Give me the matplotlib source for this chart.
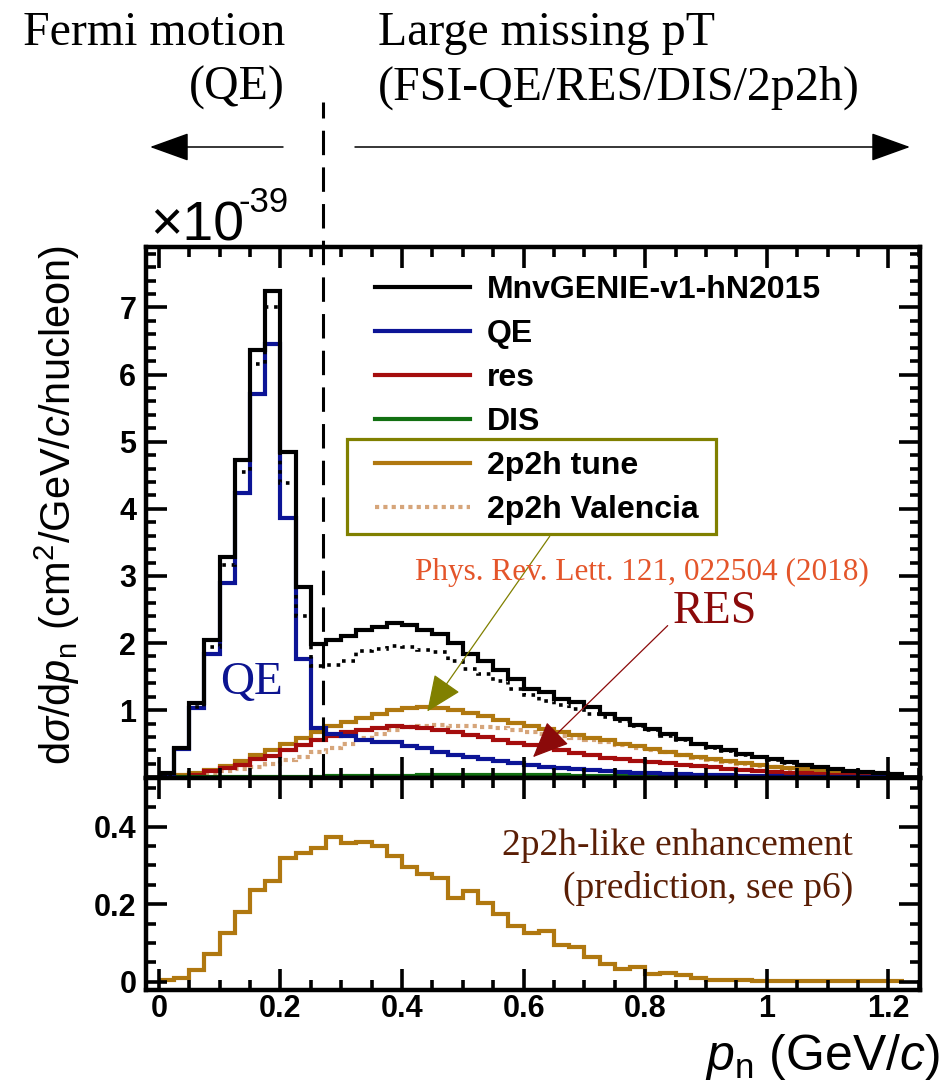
import numpy as np
import matplotlib.pyplot as plt
from matplotlib.lines import Line2D
from matplotlib.patches import Rectangle
from matplotlib.ticker import MultipleLocator

plt.rcParams['mathtext.fontset'] = 'custom'
plt.rcParams['mathtext.rm'] = 'Liberation Sans'
plt.rcParams['mathtext.it'] = 'Liberation Sans:italic'
plt.rcParams['mathtext.bf'] = 'Liberation Sans:bold'

# bin edges of p_n (GeV/c), 0.025 wide
edges = np.round(np.arange(0, 1.2251, 0.025), 3)

# top panel, units of 1e-39 cm2/GeV/c/nucleon
total = [0.06, 0.43, 1.10, 2.04, 3.28, 4.72, 6.36, 7.25, 4.84, 2.83, 1.99, 2.05,
         2.11, 2.20, 2.24, 2.30, 2.27, 2.20, 2.14, 2.00, 1.84, 1.74, 1.60, 1.47,
         1.32, 1.27, 1.17, 1.12, 1.05, 0.95, 0.87, 0.78, 0.72, 0.64, 0.57, 0.50,
         0.45, 0.40, 0.35, 0.31, 0.27, 0.23, 0.19, 0.16, 0.13, 0.10, 0.08, 0.06, 0.05]
total_val = [0.05, 0.43, 1.05, 1.94, 3.17, 4.55, 6.15, 7.01, 4.39, 2.41, 1.66, 1.68,
             1.74, 1.88, 1.91, 1.96, 1.94, 1.90, 1.87, 1.74, 1.62, 1.54, 1.44, 1.32,
             1.22, 1.14, 1.07, 1.02, 0.95, 0.90, 0.84, 0.76, 0.70, 0.62, 0.55, 0.49,
             0.44, 0.39, 0.34, 0.30, 0.26, 0.22, 0.18, 0.15, 0.12, 0.10, 0.08, 0.06, 0.05]
qe = [0.04, 0.42, 1.03, 1.84, 2.90, 4.24, 5.71, 6.45, 3.87, 1.76, 0.74, 0.65,
      0.61, 0.56, 0.53, 0.52, 0.47, 0.43, 0.38, 0.34, 0.30, 0.27, 0.24, 0.21,
      0.19, 0.16, 0.14, 0.13, 0.11, 0.09, 0.08, 0.07, 0.06, 0.05, 0.05, 0.04,
      0.03, 0.03, 0.02, 0.02, 0.02, 0.01, 0.01, 0.01, 0.01, 0.0, 0.0, 0.0, 0.0]
res = [0.0, 0.01, 0.03, 0.09, 0.14, 0.19, 0.27, 0.32, 0.40, 0.48, 0.56, 0.62,
       0.67, 0.70, 0.74, 0.76, 0.75, 0.74, 0.70, 0.67, 0.63, 0.60, 0.55, 0.51,
       0.48, 0.43, 0.40, 0.36, 0.33, 0.29, 0.27, 0.25, 0.23, 0.21, 0.19, 0.17,
       0.15, 0.13, 0.11, 0.10, 0.08, 0.07, 0.06, 0.05, 0.04, 0.03, 0.03, 0.02, 0.02]
dis = [0.0, 0.0, 0.0, 0.0, 0.0, 0.0, 0.0, 0.01, 0.01, 0.01, 0.01, 0.02,
       0.02, 0.02, 0.02, 0.02, 0.02, 0.03, 0.03, 0.03, 0.03, 0.03, 0.03, 0.03,
       0.03, 0.03, 0.03, 0.02, 0.02, 0.02, 0.02, 0.02, 0.02, 0.02, 0.02, 0.01,
       0.01, 0.01, 0.01, 0.01, 0.01, 0.01, 0.01, 0.0, 0.0, 0.0, 0.0, 0.0, 0.0]
mec_tune = [0.01, 0.03, 0.06, 0.11, 0.17, 0.24, 0.33, 0.41, 0.49, 0.59, 0.68, 0.76,
            0.83, 0.89, 0.94, 1.00, 1.04, 1.05, 1.03, 1.00, 0.96, 0.91, 0.86, 0.81,
            0.76, 0.72, 0.67, 0.63, 0.59, 0.55, 0.50, 0.46, 0.42, 0.38, 0.34, 0.30,
            0.27, 0.24, 0.21, 0.18, 0.16, 0.14, 0.12, 0.10, 0.08, 0.06, 0.05, 0.04, 0.03]
mec_val = [0.01, 0.02, 0.04, 0.06, 0.09, 0.12, 0.16, 0.20, 0.26, 0.31, 0.38, 0.43,
           0.50, 0.58, 0.65, 0.71, 0.75, 0.77, 0.78, 0.77, 0.76, 0.75, 0.73, 0.71,
           0.68, 0.65, 0.62, 0.59, 0.56, 0.52, 0.48, 0.44, 0.40, 0.37, 0.33, 0.29,
           0.26, 0.23, 0.20, 0.17, 0.15, 0.13, 0.11, 0.09, 0.07, 0.06, 0.04, 0.03, 0.03]

# bottom panel
enhance = [0.005, 0.01, 0.03, 0.073, 0.126, 0.179, 0.236, 0.26, 0.32, 0.333, 0.344, 0.374,
           0.357, 0.36, 0.351, 0.324, 0.295, 0.279, 0.267, 0.217, 0.235, 0.204, 0.176, 0.144,
           0.126, 0.131, 0.095, 0.090, 0.064, 0.047, 0.034, 0.039, 0.021, 0.024, 0.017, 0.010,
           0.004, 0.004, 0.004, 0.001, 0.001, 0.001, 0.001, 0.001, 0.001, 0.001, 0.001, 0.001, 0.001]

xticks = [0, 0.2, 0.4, 0.6, 0.8, 1.0, 1.2]
xticklabels = ['0', '0.2', '0.4', '0.6', '0.8', '1', '1.2']
yticks_top = [0, 1, 2, 3, 4, 5, 6, 7]
yticklabels_top = ['', '1', '2', '3', '4', '5', '6', '7']
yticks_bot = [0, 0.2, 0.4]
yticklabels_bot = ['0', '0.2', '0.4']

labels = ['MnvGENIE-v1-hN2015', 'QE', 'res', 'DIS', '2p2h tune', '2p2h Valencia']

W, H = 946, 1091
def fx(px):
    return px / W
def fy(py):
    return 1 - py / H

fig = plt.figure(figsize=(9.46, 10.91), dpi=100)
ax1 = fig.add_axes([fx(146), fy(778), fx(920) - fx(146), (778 - 247) / H])
ax2 = fig.add_axes([fx(146), fy(990), fx(920) - fx(146), (990 - 778) / H])

c_tot = 'black'
c_qe = '#0c1496'
c_res = '#a50d0d'
c_dis = '#127012'
c_tune = '#b07810'
c_val = '#d6a57a'

lw = 3
ax1.stairs(mec_val, edges, baseline=None, color=c_val, lw=lw, linestyle=(0, (1, 1)))
ax1.stairs(mec_tune, edges, baseline=None, color=c_tune, lw=lw)
ax1.stairs(res, edges, baseline=None, color=c_res, lw=lw)
ax1.stairs(dis, edges, baseline=None, color=c_dis, lw=lw)
ax1.stairs(qe, edges, baseline=None, color=c_qe, lw=lw)
ax1.stairs(total, edges, baseline=None, color=c_tot, lw=lw)
ax1.stairs(total_val, edges, baseline=None, color=c_tot, lw=2.6, linestyle=(0, (1, 1.6)))

ax2.stairs(enhance, edges, baseline=None, color=c_tune, lw=lw)

tick_font = dict(fontsize=22, fontweight='bold', family=['Liberation Sans Narrow', 'Liberation Sans'])
for ax in (ax1, ax2):
    ax.set_xlim(-0.021, 1.252)
    ax.xaxis.set_minor_locator(MultipleLocator(0.05))
    ax.tick_params(which='both', direction='in', top=True, right=True, width=2.6)
    ax.tick_params(which='major', length=15)
    ax.tick_params(which='minor', length=7.5)
    for s in ax.spines.values():
        s.set_linewidth(3.2)

ax1.set_ylim(-0.01, 7.9)
ax1.set_yticks(yticks_top, yticklabels_top, **tick_font)
ax1.yaxis.set_minor_locator(MultipleLocator(0.2))
ax1.set_xticks(xticks)
ax1.tick_params(labelbottom=False, pad=7)

ax2.set_ylim(-0.021, 0.525)
ax2.set_yticks(yticks_bot, yticklabels_bot, **tick_font)
ax2.yaxis.set_minor_locator(MultipleLocator(0.05))
ax2.set_xticks(xticks, xticklabels, **tick_font)
ax2.tick_params(axis='y', pad=7)
ax2.tick_params(axis='x', pad=3)

# boundary between QE and the rest
ax1.axvline(0.27, ymin=0, ymax=(778 - 102) / (778 - 247), clip_on=False,
            color='black', lw=2.2, dashes=(8, 4))

# legend
handles = [Line2D([], [], color=c_tot, lw=lw),
           Line2D([], [], color=c_qe, lw=lw),
           Line2D([], [], color=c_res, lw=lw),
           Line2D([], [], color=c_dis, lw=lw),
           Line2D([], [], color=c_tune, lw=lw),
           Line2D([], [], color=c_val, lw=lw, linestyle=(0, (1, 1)))]
fig.legend(handles, labels, loc='upper left', bbox_to_anchor=(fx(375), fy(275)),
           frameon=False, borderpad=0, borderaxespad=0, handlelength=2.98,
           handletextpad=0.53, labelspacing=0.44,
           prop=dict(family='Liberation Sans', weight='bold', size=23))
fig.add_artist(Rectangle((fx(347), fy(534)), fx(716) - fx(347), (534 - 439) / H,
                         transform=fig.transFigure, fill=False, edgecolor='#808000', lw=2.3))

# annotations
head = '-|>,head_length=2.3,head_width=1.0'
ax1.annotate('', xy=(0.4416, 0.98), xytext=(0.643, 3.59), annotation_clip=False,
             arrowprops=dict(arrowstyle=head, color='#808000',
                             lw=0.9, mutation_scale=10, shrinkA=0, shrinkB=0))
ax1.annotate('', xy=(0.6155, 0.30), xytext=(0.837, 2.26), annotation_clip=False,
             arrowprops=dict(arrowstyle=head, color='#8b0a0a',
                             lw=0.9, mutation_scale=10, shrinkA=0, shrinkB=0))
fig.text(fx(415), fy(572), 'Phys. Rev. Lett. 121, 022504 (2018)', color='#e4552a',
         family='Liberation Serif', fontsize=22.5, ha='left', va='center')
fig.text(fx(673), fy(612), 'RES', color='#8b0a0a', family='Liberation Serif',
         fontsize=33, ha='left', va='center')
fig.text(fx(220), fy(683), 'QE', color='#0c1490', family='Liberation Serif',
         fontsize=34, ha='left', va='center')
fig.text(fx(853), fy(846), '2p2h-like enhancement', color='#5a1e05',
         family='Liberation Serif', fontsize=27, ha='right', va='center')
fig.text(fx(853), fy(888), '(prediction, see p6)', color='#5a1e05',
         family='Liberation Serif', fontsize=27, ha='right', va='center')

# header
fig.text(fx(285), fy(33), 'Fermi motion', family='Liberation Serif', fontsize=34.5,
         ha='right', va='center')
fig.text(fx(285), fy(88), '(QE)', family='Liberation Serif', fontsize=34.5,
         ha='right', va='center')
fig.text(fx(378), fy(33), 'Large missing pT', family='Liberation Serif', fontsize=34.5,
         ha='left', va='center')
fig.text(fx(378), fy(88), '(FSI-QE/RES/DIS/2p2h)', family='Liberation Serif', fontsize=34.5,
         ha='left', va='center')
for tail, tip in [(283, 150), (355, 910)]:
    ax1.annotate('', xy=(fx(tip), fy(147)), xytext=(fx(tail), fy(147)),
                 xycoords='figure fraction', textcoords='figure fraction',
                 arrowprops=dict(arrowstyle='-|>,head_length=2.5,head_width=0.9', color='black',
                                 lw=1.1, mutation_scale=10, shrinkA=0, shrinkB=0))

fig.text(fx(150), fy(240), '\u00d710', family='Liberation Sans', fontsize=40,
         ha='left', va='baseline')
fig.text(fx(238), fy(186), '-39', family='Liberation Sans', fontsize=25,
         ha='left', va='top')

fig.text(fx(57), fy(505), r'd$\sigma$/d$p_{\mathrm{n}}$ (cm$^{2}$/GeV/$c$/nucleon)',
         family='Liberation Sans', fontsize=30, rotation=90, ha='center', va='center')
fig.text(fx(940), fy(1057), r'$p_{\mathrm{n}}$ (GeV/$c$)', family='Liberation Sans',
         fontsize=36, ha='right', va='center')

fig.savefig('out.png', dpi=100)
